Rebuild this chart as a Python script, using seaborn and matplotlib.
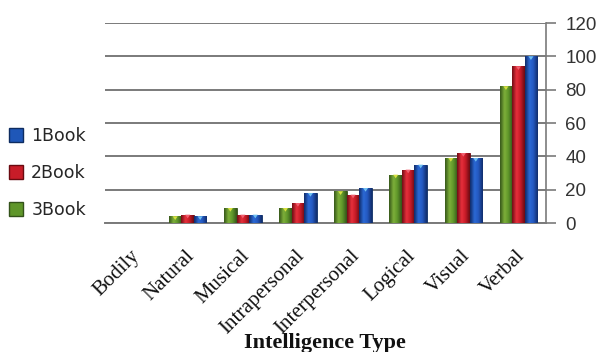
import matplotlib
matplotlib.use("Agg")
import matplotlib.pyplot as plt
from matplotlib.patches import Patch, Polygon
from matplotlib.colors import LinearSegmentedColormap
import matplotlib.transforms as mtransforms
import numpy as np
import seaborn as sns
import pandas as pd

# Intelligence types along the x axis
categories = ["Bodily", "Natural", "Musical", "Intrapersonal", "Interpersonal",
              "Logical", "Visual", "Verbal"]
book1 = [0, 4, 5, 18, 21, 35, 39, 100]
book2 = [0, 5, 5, 12, 17, 32, 42, 94]
book3 = [0, 4, 9, 9, 19, 29, 39, 82]
series_names = ["1Book", "2Book", "3Book"]
y_ticks = [0, 20, 40, 60, 80, 100, 120]

colors = {"1Book": "#1f57b8", "2Book": "#c81c28", "3Book": "#5f962a"}
# cylinder shading: dark edge -> bright core -> dark edge
shades = {
    "1Book": ["#0f2a66", "#2c6ad6", "#2458c0", "#102c6a"],
    "2Book": ["#6e0c14", "#e8303c", "#c81c28", "#6a0a12"],
    "3Book": ["#35561a", "#7eb03a", "#5f962a", "#33521a"],
}
tips = {"1Book": "#6fc0f0", "2Book": "#f06070", "3Book": "#d8e040"}
edges = {"1Book": "#0e2c60", "2Book": "#6a0a10", "3Book": "#33521a"}

df = pd.DataFrame({
    "type": categories * 3,
    "book": ["1Book"] * 8 + ["2Book"] * 8 + ["3Book"] * 8,
    "value": book1 + book2 + book3,
})

sns.set_style("white")
fig = plt.figure(figsize=(6.04, 3.52), dpi=100)
ax = fig.add_axes([105 / 604, 1 - 223 / 352, (546 - 105) / 604, 200 / 352])

hue_order = ["3Book", "2Book", "1Book"]
sns.barplot(data=df, x="type", y="value", hue="book", order=categories,
            hue_order=hue_order, palette=colors, width=0.68, ax=ax,
            legend=False, saturation=1)

ax.set_ylim(0, 120)
ax.set_xlim(-0.5, 7.5)

grad = np.linspace(0, 1, 64).reshape(1, -1)
for container, name in zip(ax.containers, hue_order):
    cmap = LinearSegmentedColormap.from_list(
        name, list(zip([0.0, 0.35, 0.65, 1.0], shades[name])))
    for bar in container:
        bar.set_edgecolor(edges[name])
        bar.set_linewidth(0.6)
        bar.set_zorder(3)
        x0, w, h = bar.get_x(), bar.get_width(), bar.get_height()
        if h <= 0:
            continue
        im = ax.imshow(grad, cmap=cmap, aspect="auto", origin="lower",
                       extent=(x0, x0 + w, 0, h), zorder=3.5,
                       interpolation="bicubic")
        im.set_clip_path(bar)
        # small light wedge at the top of each bar
        th = min(h, 2.2)
        tri = Polygon([(x0 + w * 0.3, h), (x0 + w * 0.7, h),
                       (x0 + w * 0.5, h - th)], closed=True,
                      facecolor=tips[name], edgecolor="none", zorder=4)
        ax.add_patch(tri)

ax.set_xlim(-0.5, 7.5)
ax.set_ylim(0, 120)
ax.set_yticks(y_ticks)
ax.yaxis.tick_right()
ax.yaxis.grid(True, color="#7a7a7a", linewidth=1.4, zorder=0)
ax.set_axisbelow(True)
ax.tick_params(axis="y", which="both", right=True, length=7, width=1.2,
               color="#7a7a7a", pad=7, labelsize=13.5, labelcolor="#333333")
for lab in ax.get_yticklabels():
    lab.set_fontfamily("Liberation Sans")

for side in ["left", "top"]:
    ax.spines[side].set_visible(False)
ax.spines["right"].set_color("#7a7a7a")
ax.spines["right"].set_linewidth(1.2)
ax.spines["bottom"].set_color("#7a7a7a")
ax.spines["bottom"].set_linewidth(1.4)

ax.set_xlabel("")
ax.set_ylabel("")
ax.tick_params(axis="x", length=0, pad=22)
ax.set_xticks(range(len(categories)))
ax.set_xticklabels(categories, rotation=45, ha="right", va="center",
                   rotation_mode="anchor", fontfamily="Liberation Serif",
                   fontsize=15, color="#111111")
shift = mtransforms.ScaledTranslation(4 / 100, 0, fig.dpi_scale_trans)
for lab in ax.get_xticklabels():
    lab.set_transform(lab.get_transform() + shift)

fig.text(325 / 604, 1 - 343 / 352, "Intelligence Type", ha="center",
         va="center", fontfamily="Liberation Serif", fontweight="bold",
         fontsize=16, color="#111111")

handles = [Patch(facecolor=colors[n], edgecolor=edges[n], label=n)
           for n in series_names]
fig.legend(handles=handles, loc="center left",
           bbox_to_anchor=(0.0, 1 - 173 / 352), frameon=False,
           prop={"family": "DejaVu Sans", "size": 12.5},
           handlelength=0.8, handleheight=0.8, handletextpad=0.5,
           labelspacing=1.1, borderaxespad=0.1)

fig.savefig("out.png", dpi=100)
